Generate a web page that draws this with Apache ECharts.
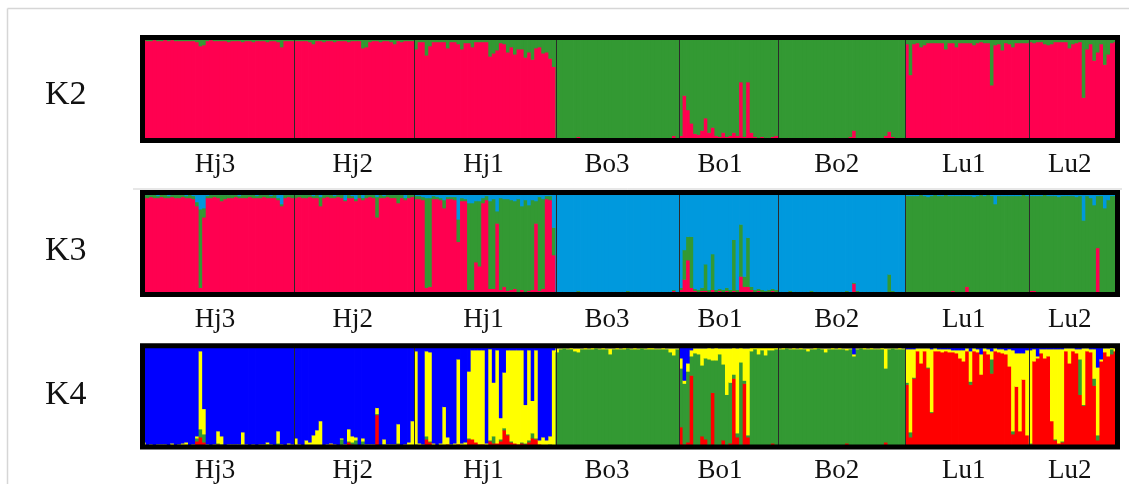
<!DOCTYPE html>
<html>
<head>
<meta charset="utf-8">
<script src="https://cdn.jsdelivr.net/npm/echarts/dist/echarts.min.js"></script>
<style>
html,body{margin:0;padding:0;background:#ffffff;}
#chart{width:1129px;height:484px;}
</style>
</head>
<body>
<div id="chart"></div>
<script>
// ---------- categories ----------
const populations = ['Hj3','Hj2','Hj1','Bo3','Bo1','Bo2','Lu1','Lu2'];
const plotNames = ['K2','K3','K4'];

// ---------- K2: % membership in red cluster per individual (remainder = green) ----------
const k2Hj3 = [98,97,97,98,97,97,98,97,98,97,97,97,97,97,97,96,92,93,97,98,97,97,97,97,96,97,97,97,96,97,97,96,97,97,97,96,97,97,96,91,97,97,97];
const k2Hj2 = [97,97,97,97,96,94,97,97,96,97,97,96,97,97,97,96,97,97,97,90,91,96,97,97,96,97,97,96,94,97,96,97,97,97];
const k2Hj1 = [89,96,96,83,92,96,96,96,96,90,96,96,94,89,95,95,91,96,96,96,96,82,85,88,95,94,86,91,84,89,89,81,86,79,90,91,85,86,80,72];
const k2Bo3 = [2,2,1,2,2,2,4,3,2,2,2,2,3,2,2,2,2,2,2,2,2,2,2,3,2,2,2,2,2,2,2,2,2,5,2];
const k2Bo1 = [5,44,30,17,7,6,10,22,8,13,5,4,8,4,5,8,5,57,4,57,8,4,3,4,3,3,4,5];
const k2Bo2 = [2,2,2,3,2,2,2,2,2,3,2,2,2,2,2,2,3,2,2,3,4,10,3,2,2,2,2,3,2,2,5,9,4,2,2,3];
const k2Lu1 = [94,64,94,95,91,93,95,95,95,95,95,89,95,95,91,95,95,95,95,93,95,96,95,95,54,93,94,88,95,94,91,95,95,95,95];
const k2Lu2 = [96,95,96,96,94,93,94,96,96,96,96,90,94,95,96,42,89,94,78,86,94,74,84,95,96];

// ---------- K3: [red %, green %] per individual (remainder = blue) ----------
const k3Hj3 = [[95,3],[95,3],[96,2],[95,3],[95,2],[96,3],[95,3],[95,2],[96,2],[95,3],
  [95,3],[96,2],[95,2],[95,3],[94,3],[87,4],[7,77],[76,9],[95,2],[95,3],
  [96,2],[95,3],[92,6],[94,4],[95,3],[95,3],[96,2],[95,2],[95,3],[95,3],
  [96,2],[95,3],[95,2],[95,3],[96,2],[95,3],[95,2],[95,3],[93,2],[87,2],
  [95,3],[96,2],[95,3]];
const k3Hj2 = [[95,3],[96,2],[95,3],[95,3],[96,2],[95,2],[95,3],[87,9],[95,3],[96,2],
  [95,3],[95,2],[96,2],[95,3],[92,1],[95,3],[95,2],[92,2],[95,3],[93,2],
  [95,3],[96,2],[95,3],[76,20],[95,3],[95,2],[96,2],[95,3],[95,3],[90,8],
  [95,3],[93,2],[95,3],[96,2]];
const k3Hj1 = [[94,3],[94,3],[93,3],[7,88],[8,87],[94,3],[94,2],[93,2],[85,8],[94,2],
  [94,2],[93,3],[52,22],[92,3],[92,2],[5,85],[5,85],[32,60],[28,64],[90,5],
  [93,4],[6,86],[6,88],[70,12],[5,90],[8,86],[4,90],[5,88],[6,86],[3,91],
  [5,82],[3,90],[4,84],[5,88],[70,22],[4,92],[6,88],[94,3],[93,4],[39,27]];
const k3Bo3 = [[2,1],[2,1],[2,1],[2,1],[1,1],[2,1],[3,1],[2,1],[2,1],[2,1],
  [2,1],[2,1],[2,1],[2,0],[2,1],[2,1],[2,1],[2,1],[2,1],[2,1],
  [3,1],[2,1],[2,1],[2,1],[2,1],[2,1],[2,1],[2,1],[2,1],[2,1],
  [2,1],[2,1],[2,1],[4,1],[2,1]];
const k3Bo1 = [[5,2],[15,29],[34,23],[7,50],[4,2],[3,2],[4,3],[4,26],[3,2],[5,35],
  [3,2],[4,2],[3,2],[4,3],[3,2],[4,50],[3,2],[18,51],[8,10],[8,48],
  [5,3],[3,2],[4,2],[3,2],[2,2],[3,2],[4,2],[3,2]];
const k3Bo2 = [[2,1],[2,1],[2,1],[3,1],[2,1],[2,1],[2,1],[2,1],[2,1],[3,1],
  [2,1],[2,1],[2,1],[2,1],[2,1],[2,1],[2,1],[2,1],[2,1],[3,1],
  [2,1],[11,1],[3,1],[2,1],[2,1],[2,1],[2,1],[2,1],[2,1],[2,1],
  [2,1],[2,18],[3,1],[2,1],[2,1],[2,1]];
const k3Lu1 = [[2,95],[2,95],[3,94],[2,95],[2,96],[2,95],[2,94],[2,95],[3,95],[2,95],
  [2,95],[2,96],[2,95],[4,93],[2,95],[3,94],[2,95],[8,89],[2,95],[2,94],
  [2,95],[3,95],[2,95],[2,96],[2,95],[2,87],[2,95],[3,94],[2,95],[2,95],
  [2,95],[3,94],[2,95],[2,96],[2,95]];
const k3Lu2 = [[4,93],[4,93],[2,95],[2,95],[2,96],[2,95],[2,95],[2,95],[2,94],[2,95],
  [2,95],[2,95],[2,95],[2,94],[2,95],[2,71],[2,95],[2,93],[2,86],[46,51],
  [2,95],[2,83],[2,91],[2,95],[3,94]];

// ---------- K4: [red %, green %, yellow %] per individual (remainder = blue) ----------
const k4Hj3 = [[1,1,3],[1,0,1],[1,1,1],[1,0,1],[1,1,1],[2,0,1],[1,1,1],[1,0,1],[1,1,2],[1,0,1],
  [1,1,1],[1,0,3],[1,1,3],[1,0,1],[1,1,1],[6,3,2],[10,8,77],[5,8,25],[1,1,1],[1,0,1],
  [1,1,1],[3,1,12],[2,1,8],[1,0,1],[1,1,1],[2,0,1],[1,1,1],[1,0,2],[1,0,14],[1,1,1],
  [1,0,1],[1,1,1],[1,0,1],[1,1,1],[1,0,2],[1,2,2],[1,1,1],[1,0,1],[1,3,12],[1,1,1],
  [1,0,1],[1,1,2],[1,1,1]];
const k4Hj2 = [[1,0,8],[1,1,1],[1,0,1],[1,1,5],[1,0,4],[1,1,10],[1,1,15],[1,1,24],[1,0,1],[1,1,1],
  [3,0,1],[1,1,1],[1,0,1],[1,7,1],[1,1,1],[5,1,12],[3,2,6],[1,6,3],[1,0,1],[1,5,3],
  [1,1,1],[2,0,1],[1,1,1],[32,1,6],[1,0,1],[1,2,5],[1,1,1],[2,0,1],[1,1,1],[3,1,19],
  [1,0,1],[1,1,1],[1,1,3],[1,1,24]];
const k4Hj1 = [[2,1,92],[2,0,2],[1,0,2],[8,3,84],[5,1,88],[2,0,2],[1,0,1],[2,0,2],[2,0,38],[3,0,7],
  [2,0,1],[2,0,2],[3,0,84],[2,0,2],[2,0,3],[8,1,66],[8,0,88],[5,0,91],[3,0,93],[3,0,93],
  [2,0,2],[6,1,90],[4,7,53],[4,0,92],[6,2,21],[17,2,55],[12,1,83],[5,1,90],[4,0,92],[3,0,93],
  [4,1,91],[3,1,38],[5,2,89],[9,5,32],[8,1,87],[3,0,4],[2,0,8],[2,0,5],[2,1,8],[1,1,94]];
const k4Bo3 = [[1,93,4],[2,95,1],[2,96,1],[2,95,1],[2,95,2],[2,93,3],[2,92,4],[2,95,1],[1,96,2],[2,95,1],
  [2,95,2],[2,96,1],[2,95,1],[2,95,2],[2,95,1],[2,90,6],[2,95,1],[1,96,2],[2,95,1],[2,95,2],
  [2,96,1],[2,95,1],[2,95,2],[2,95,1],[2,96,1],[2,95,1],[2,95,2],[1,96,2],[2,95,1],[2,95,1],
  [2,95,2],[2,95,1],[2,92,4],[2,89,7],[2,95,1]];
const k4Bo1 = [[20,58,10],[3,60,3],[5,70,8],[71,19,6],[2,91,5],[2,90,6],[11,70,17],[8,80,10],[2,85,12],[54,32,12],
  [2,84,13],[2,90,6],[7,75,16],[2,50,46],[4,60,34],[68,4,27],[10,4,84],[2,82,15],[63,3,32],[10,2,86],
  [2,93,4],[2,95,2],[2,90,7],[2,94,3],[2,89,8],[2,94,3],[4,92,3],[2,95,2]];
const k4Bo2 = [[2,95,1],[2,95,2],[2,96,1],[2,95,1],[1,96,2],[2,95,1],[2,95,2],[2,95,1],[2,93,3],[2,95,1],
  [2,95,2],[2,96,1],[2,95,1],[2,92,4],[2,95,1],[1,96,2],[2,95,1],[2,95,2],[2,95,1],[4,92,2],
  [2,95,1],[2,88,2],[2,95,1],[2,96,1],[2,95,2],[2,95,1],[1,96,2],[2,95,1],[2,95,1],[2,95,2],
  [5,73,20],[2,95,1],[2,96,1],[2,95,1],[2,95,2],[2,95,1]];
const k4Lu1 = [[62,2,33],[10,5,82],[68,1,28],[95,0,3],[83,0,15],[95,0,3],[78,1,19],[34,1,62],[95,0,3],[95,0,2],
  [94,0,3],[95,0,2],[94,0,3],[94,0,2],[93,0,3],[88,0,8],[85,0,11],[95,0,3],[62,3,30],[95,0,3],
  [94,0,3],[72,0,20],[95,0,3],[92,0,5],[73,14,8],[95,0,3],[94,0,3],[93,0,4],[92,0,4],[80,0,17],
  [13,3,80],[60,0,33],[16,0,77],[67,0,26],[12,0,84]];
const k4Lu2 = [[3,1,92],[85,0,12],[88,0,2],[93,0,4],[88,0,9],[90,0,7],[26,0,71],[7,1,89],[4,0,93],[5,1,91],
  [95,0,3],[83,0,15],[95,0,3],[93,0,4],[52,35,10],[41,1,56],[95,0,3],[94,0,3],[61,7,29],[7,5,67],
  [85,0,2],[94,0,4],[90,0,8],[92,5,2],[95,0,3]];

// ---------- build ----------
const k2Groups = [k2Hj3,k2Hj2,k2Hj1,k2Bo3,k2Bo1,k2Bo2,k2Lu1,k2Lu2];
const k3Groups = [k3Hj3,k3Hj2,k3Hj1,k3Bo3,k3Bo1,k3Bo2,k3Lu1,k3Lu2];
const k4Groups = [k4Hj3,k4Hj2,k4Hj1,k4Bo3,k4Bo1,k4Bo2,k4Lu1,k4Lu2];

const popSizes = k2Groups.map(g => g.length);
const individuals = [];
const popStart = [];
let acc = 0;
populations.forEach((p, k) => {
  popStart.push(acc);
  for (let i = 0; i < popSizes[k]; i++) individuals.push(p + '_' + (i + 1));
  acc += popSizes[k];
});
// layout: small nudge (in individuals) of each population label from the population middle
const labelNudge = [-1,-1,-1,-3,-3,-2,-1,-1];
const labelIndex = popStart.map((s, k) => s + Math.floor(popSizes[k] / 2) + labelNudge[k]);

// rows: [individual index, cluster1 %, cluster2 %, ...] bottom to top
const k2Rows = k2Groups.flat().map((v, i) => [i, v, 100 - v]);
const k3Rows = k3Groups.flat().map((t, i) => [i, t[0], t[1], 100 - t[0] - t[1]]);
const k4Rows = k4Groups.flat().map((t, i) => [i, t[0], t[1], t[2], 100 - t[0] - t[1] - t[2]]);

const plotRows = [k2Rows, k3Rows, k4Rows];
const plotColors = [
  ['#FF0050', '#339933'],
  ['#FF0050', '#339933', '#0099DD'],
  ['#FF0000', '#339933', '#FFFF00', '#0000FF']
];

function stackRenderer(colors) {
  return function (params, api) {
    const idx = api.value(0);
    const w = api.size([1, 0])[0] + 0.8;
    let cum = 0;
    const children = [];
    for (let c = 0; c < colors.length; c++) {
      const v = api.value(c + 1);
      if (!(v > 0)) continue;
      const p0 = api.coord([idx, cum]);
      const p1 = api.coord([idx, cum + v]);
      children.push({
        type: 'rect',
        shape: {x: p0[0] - w / 2, y: p1[1], width: w, height: (p0[1] - p1[1]) + 0.6},
        style: {fill: colors[c]}
      });
      cum += v;
    }
    return {type: 'group', children: children};
  };
}

const gridTops = [37.5, 192.5, 345.75];
const gridHeights = [103, 102, 103.75];
const labelMargins = [11, 12, 10];
const titleTops = [78, 234, 378];

const serif = "'Liberation Serif','Times New Roman',serif";

const option = {
  backgroundColor: '#ffffff',
  animation: false,
  title: plotNames.map((n, g) => ({
    text: n, left: 45, top: titleTops[g], padding: 0,
    textStyle: {fontFamily: serif, fontSize: 34, fontWeight: 'normal', color: '#111'}
  })),
  grid: plotNames.map((n, g) => ({
    left: 142.5, right: 11.5, top: gridTops[g], height: gridHeights[g],
    show: true, z: 20, backgroundColor: 'transparent',
    borderColor: '#000', borderWidth: 5
  })),
  xAxis: plotNames.map((n, g) => ({
    type: 'category', gridIndex: g, data: individuals, z: 10,
    axisLine: {show: false}, axisTick: {show: false},
    splitLine: {show: true, interval: (i) => i > 0 && popStart.indexOf(i) >= 0,
      lineStyle: {color: '#2b2b2b', width: 1}},
    axisLabel: {interval: (i) => labelIndex.indexOf(i) >= 0,
      formatter: (v) => v.split('_')[0], margin: labelMargins[g],
      fontFamily: serif, fontSize: 27, color: '#111'}
  })),
  yAxis: plotNames.map((n, g) => ({
    type: 'value', gridIndex: g, min: 0, max: 100, show: false
  })),
  graphic: [
    {type:'line', shape:{x1:7.5, y1:8.5, x2:1129, y2:8.5}, style:{stroke:'#d6d6d6', lineWidth:1.5}, silent:true},
    {type:'line', shape:{x1:7.5, y1:8.5, x2:7.5, y2:484}, style:{stroke:'#d6d6d6', lineWidth:1.5}, silent:true},
    {type:'line', shape:{x1:133, y1:189, x2:1122, y2:189}, style:{stroke:'#cfcfcf', lineWidth:1}, silent:true}
  ],
  series: plotRows.map((rows, g) => ({
    type: 'custom', xAxisIndex: g, yAxisIndex: g, silent: true,
    renderItem: stackRenderer(plotColors[g]),
    encode: {x: 0, y: plotColors[g].map((c, k) => k + 1)},
    data: rows
  }))
};

const chart = echarts.init(document.getElementById('chart'), null, {renderer: 'canvas'});
chart.setOption(option);
</script>
</body>
</html>
